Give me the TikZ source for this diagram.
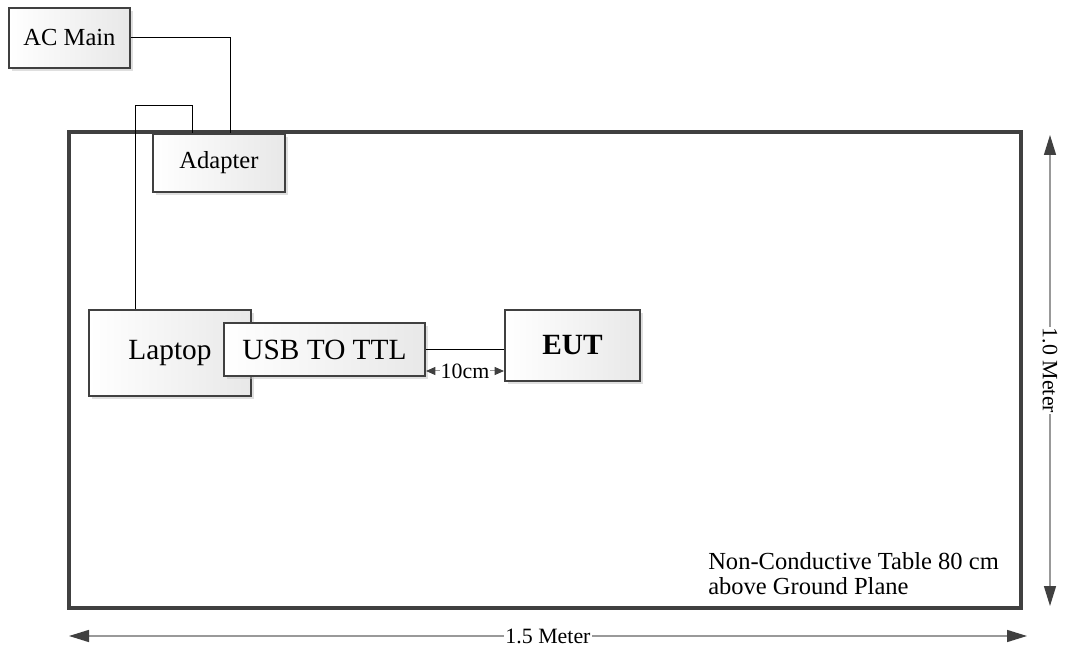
\documentclass[tikz,border=0pt]{standalone}
\usepackage{fontspec}
\setmainfont{Liberation Serif}
\usetikzlibrary{arrows.meta,shadows}
\definecolor{dGray}{gray}{0.25}
\definecolor{lGray}{gray}{0.6}
\tikzset{
    box/.style={rectangle, draw=dGray, line width=1.5pt, left color=white, right color=gray!18,
        inner sep=0pt, drop shadow={shadow xshift=2.5pt, shadow yshift=-2.5pt, fill=gray!50, opacity=0.5},
        font=\fontsize{18.4}{20}\selectfont},
    big/.style={font=\fontsize{22}{24}\selectfont},
    tbl/.style={rectangle, draw=dGray, line width=2.6pt, inner sep=0pt},
    wire/.style={line width=0.75pt, black},
    dim/.style={line width=1.1pt, lGray, {Triangle[length=15pt,width=9pt,color=dGray]}-{Triangle[length=15pt,width=9pt,color=dGray]}},
    dimsmall/.style={line width=0.75pt, lGray, {Triangle[length=7pt,width=6pt,color=dGray]}-{Triangle[length=7pt,width=6pt,color=dGray]}},
    dimlbl/.style={fill=white, text=black, inner sep=1pt, font=\fontsize{16.4}{18}\selectfont}
}
\begin{document}
\begin{tikzpicture}[x=0.75pt,y=-0.75pt]
\useasboundingbox (0,0) rectangle (1065,652);
% table
\node[tbl, minimum width=714pt, minimum height=357pt] (table) at (545,370) {};
\node[anchor=north west, align=left, inner sep=0pt, font=\fontsize{18.4}{18.75}\selectfont] (note) at (708,552)
    {Non-Conductive Table 80 cm\\above Ground Plane};
% boxes
\node[box, minimum width=90.75pt, minimum height=45pt] (acmain) at (69.5,38) {AC Main};
\node[box, minimum width=99pt, minimum height=43.5pt] (adapter) at (219,163) {Adapter};
\node[box, big, minimum width=121.5pt, minimum height=64.5pt] (laptop) at (170,353) {Laptop};
\node[box, big, minimum width=150.75pt, minimum height=39.75pt] (usb) at (324.5,349.5) {USB TO TTL};
\node[box, big, minimum width=101.25pt, minimum height=53.25pt] (eut) at (572.5,345.5) {\textbf{EUT}};
% cables
\draw[wire] (acmain.east) -| ([xshift=58.5pt]adapter.north west);
\draw[wire] ([xshift=35.25pt]laptop.north west) -- ++(0,-203) -| ([xshift=30pt]adapter.north west);
\draw[wire] (usb.east) -- (usb.east -| eut.west);
% dimensions
\coordinate (d10a) at ([yshift=4.5pt]usb.south east);
\draw[dimsmall] (d10a) -- node[dimlbl, inner sep=0.5pt] {10cm} (d10a -| eut.west);
\coordinate (dwa) at (69,636);
\coordinate (dwb) at (1027,636);
\draw[dim] (dwa) -- node[dimlbl] {1.5 Meter} (dwb);
\coordinate (dha) at (1050,135);
\coordinate (dhb) at (1050,606);
\draw[dim] (dha) -- node[dimlbl, rotate=-90] {1.0 Meter} (dhb);
\end{tikzpicture}
\end{document}
